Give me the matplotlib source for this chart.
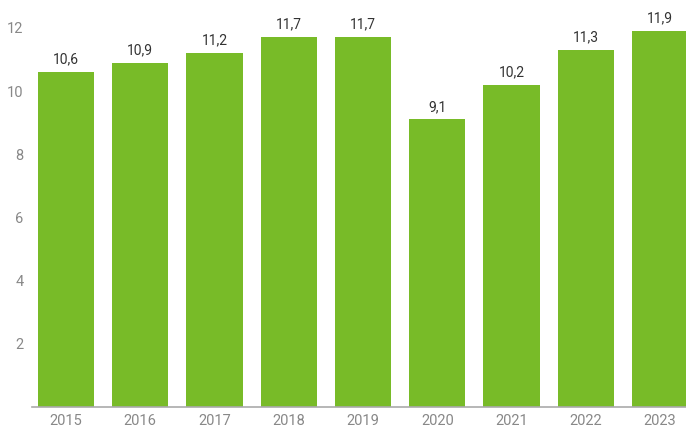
import matplotlib
matplotlib.use('Agg')
from matplotlib import pyplot as plt
import numpy as np

years = ['2015', '2016', '2017', '2018', '2019', '2020', '2021', '2022', '2023']
values = [10.6, 10.9, 11.2, 11.7, 11.7, 9.1, 10.2, 11.3, 11.9]
y_ticks = [2, 4, 6, 8, 10, 12]

plt.rcParams['font.family'] = ['Roboto', 'DejaVu Sans']

fig = plt.figure(figsize=(6.86, 4.30), dpi=100)
ax = fig.add_axes([32/686, 23/430, 1 - 32/686, 407/430])

x = np.arange(len(years))
ax.bar(x, values, width=0.755, color='#78bb28', zorder=2)

for xi, v in zip(x, values):
    ax.annotate('{:.1f}'.format(v).replace('.', ','), (xi, v),
                xytext=(0, 4), textcoords='offset points',
                ha='center', va='bottom', fontsize=10, color='#333333')

ax.set_xlim(-0.458, 8.35)
ax.set_ylim(0, 12.88)
ax.set_xticks(x)
ax.set_xticklabels(years)
ax.set_yticks(y_ticks)
ax.tick_params(axis='both', length=0, labelsize=10.5, labelcolor='#888888')
ax.tick_params(axis='y', pad=6)
ax.tick_params(axis='x', pad=5)

for s in ['top', 'right', 'left']:
    ax.spines[s].set_visible(False)
ax.spines['bottom'].set_color('#aaaaaa')
ax.spines['bottom'].set_linewidth(1.2)
ax.spines['bottom'].set_zorder(3)

plt.savefig('out.png', dpi=100)
